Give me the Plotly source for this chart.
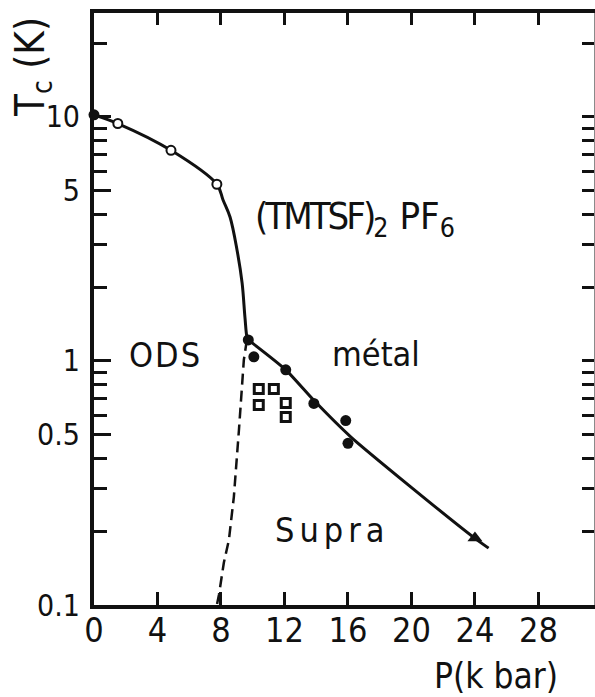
import plotly.graph_objects as go

# Pressure (kbar) and critical temperature (K) readings
p_ods_line = [0, 1.5, 4.85, 7.74, 8.13, 8.57, 9.01, 9.33, 9.51, 9.64, 9.72]
t_ods_line = [10.2, 9.4, 7.3, 5.3, 4.57, 3.89, 2.85, 2.09, 1.51, 1.25, 1.22]

p_sc_line = [9.72, 12.08, 13.85, 16.17, 19.95, 23.98, 24.86]
t_sc_line = [1.22, 0.92, 0.69, 0.489, 0.305, 0.188, 0.171]

p_boundary = [9.63, 9.44, 9.13, 8.81, 8.5, 8.18, 7.87, 7.74]
t_boundary = [1.22, 1.01, 0.52, 0.277, 0.185, 0.149, 0.110, 0.1]

p_open = [1.5, 4.85, 7.74]
t_open = [9.4, 7.3, 5.3]

p_filled = [0, 9.72, 10.07, 12.08, 13.85, 15.86, 16.0]
t_filled = [10.2, 1.22, 1.04, 0.92, 0.67, 0.57, 0.46]

p_square = [10.38, 11.33, 10.38, 12.08, 12.08]
t_square = [0.767, 0.767, 0.66, 0.673, 0.589]

p_triangle = [24.0]
t_triangle = [0.188]

x_ticks = [0, 4, 8, 12, 16, 20, 24, 28]
y_major = [0.1, 0.5, 1, 5, 10]
y_major_text = ["0.1", "0.5", "1", "5", "10"]
y_minor = [0.2, 0.3, 0.4, 0.6, 0.7, 0.8, 0.9, 2, 3, 4, 6, 7, 8, 9, 20]

FONT = "DejaVu Sans Condensed, Liberation Sans Narrow, sans-serif"
INK = "#111111"

W, H = 595, 697
ML, MR, MT, MB = 94, 1, 13, 92
X_RANGE = [0, 31.5]
Y_RANGE = [-1, 1.426]


def px(x):
    return (x - ML) / (W - ML - MR)


def py(y):
    return (H - MB - y) / (H - MT - MB)


fig = go.Figure()

fig.add_trace(go.Scatter(x=p_ods_line, y=t_ods_line, mode="lines",
                         line=dict(color=INK, width=3, shape="spline", smoothing=1.0),
                         cliponaxis=False, showlegend=False))
fig.add_trace(go.Scatter(x=p_sc_line, y=t_sc_line, mode="lines",
                         line=dict(color=INK, width=3, shape="spline", smoothing=0.6),
                         showlegend=False))
fig.add_trace(go.Scatter(x=p_boundary, y=t_boundary, mode="lines",
                         line=dict(color=INK, width=2.5, dash="11px,6px"),
                         showlegend=False))
fig.add_trace(go.Scatter(x=p_open, y=t_open, mode="markers",
                         marker=dict(symbol="circle", size=9, color="white",
                                     line=dict(color=INK, width=2)),
                         showlegend=False))
fig.add_trace(go.Scatter(x=p_filled, y=t_filled, mode="markers",
                         marker=dict(symbol="circle", size=11, color=INK,
                                     line=dict(width=0)),
                         cliponaxis=False, showlegend=False))
fig.add_trace(go.Scatter(x=p_square, y=t_square, mode="markers",
                         marker=dict(symbol="square-open", size=9, color=INK,
                                     line=dict(color=INK, width=3)),
                         showlegend=False))
fig.add_trace(go.Scatter(x=p_triangle, y=t_triangle, mode="markers",
                         marker=dict(symbol="triangle-up", size=13, color=INK),
                         showlegend=False))
# carrier for the mirrored top/right axes
fig.add_trace(go.Scatter(x=[None], y=[None], xaxis="x2", yaxis="y2",
                         showlegend=False, hoverinfo="skip"))

fig.update_layout(
    width=W, height=H,
    margin=dict(l=ML, r=MR, t=MT, b=MB),
    paper_bgcolor="white", plot_bgcolor="white",
    font=dict(family=FONT, color=INK),
    xaxis=dict(range=X_RANGE, tickmode="array", tickvals=x_ticks,
               ticks="inside", ticklen=13, tickwidth=3, tickcolor=INK,
               showline=True, linewidth=4, linecolor=INK,
               showgrid=False, zeroline=False, ticklabelstandoff=-8,
               tickfont=dict(size=34, family=FONT, color=INK)),
    yaxis=dict(type="log", range=Y_RANGE, tickmode="array",
               tickvals=y_major, ticktext=y_major_text,
               ticks="inside", ticklen=17, tickwidth=3, tickcolor=INK,
               minor=dict(tickmode="array", tickvals=y_minor, ticks="inside",
                          ticklen=13, tickwidth=3, tickcolor=INK, showgrid=False),
               showline=True, linewidth=4, linecolor=INK,
               showgrid=False, zeroline=False, ticklabelstandoff=4,
               tickfont=dict(size=30, family=FONT, color=INK)),
    xaxis2=dict(overlaying="x", side="top", anchor="y", range=X_RANGE,
                tickmode="array", tickvals=x_ticks, showticklabels=False,
                ticks="inside", ticklen=12, tickwidth=3, tickcolor=INK,
                showline=True, linewidth=4, linecolor=INK,
                showgrid=False, zeroline=False),
    yaxis2=dict(overlaying="y", side="right", anchor="x", type="log", range=Y_RANGE,
                tickmode="array", tickvals=y_major + y_minor, showticklabels=False,
                ticks="inside", ticklen=12, tickwidth=3, tickcolor=INK,
                showline=True, linewidth=1, linecolor="#8a8a8a",
                showgrid=False, zeroline=False),
)

labels = [
    dict(text="T<sub>c</sub> (K)", x=px(33), y=py(67), textangle=-90,
         xanchor="center", yanchor="middle", size=40),
    dict(text="P(k bar)", x=px(560), y=py(676), xanchor="right", yanchor="middle", size=35),
    dict(text='<span style="letter-spacing:-3px">(TMTSF)</span><sub>2</sub> PF<sub>6</sub>',
         x=px(253), y=py(218), xanchor="left", yanchor="middle", size=38),
    dict(text='<span style="letter-spacing:2px">ODS</span>', x=px(127), y=py(355),
         xanchor="left", yanchor="middle", size=34),
    dict(text='<span style="letter-spacing:0px">métal</span>', x=px(330), y=py(354),
         xanchor="left", yanchor="middle", size=34),
    dict(text='<span style="letter-spacing:5px">Supra</span>', x=px(273), y=py(530),
         xanchor="left", yanchor="middle", size=34),
]
for lab in labels:
    fig.add_annotation(text=lab["text"], x=lab["x"], y=lab["y"], xref="paper", yref="paper",
                       xanchor=lab["xanchor"], yanchor=lab["yanchor"], showarrow=False,
                       textangle=lab.get("textangle", 0),
                       font=dict(size=lab["size"], family=FONT, color=INK))

fig.write_html("out.html")
